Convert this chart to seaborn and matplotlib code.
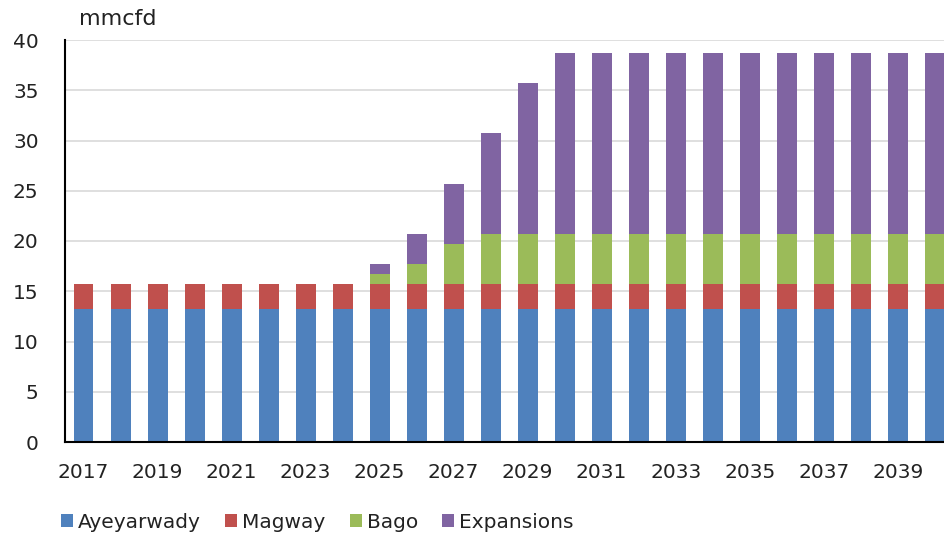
import numpy as np
import pandas as pd
import seaborn as sns
import matplotlib.pyplot as plt
from matplotlib.patches import Patch

years = list(range(2017, 2041))
ayeyarwady = [13.2] * 24
magway = [2.5] * 24
bago = [0] * 8 + [1.0, 2.0, 4.0] + [5.0] * 13
expansions = [0] * 8 + [1.0, 3.0, 6.0, 10.0, 15.0] + [18.0] * 11

series = ['Ayeyarwady', 'Magway', 'Bago', 'Expansions']
colors = ['#4F81BD', '#C0504D', '#9BBB59', '#8064A2']

df = pd.DataFrame({'year': [str(y) for y in years], 'Ayeyarwady': ayeyarwady,
                   'Magway': magway, 'Bago': bago, 'Expansions': expansions})
cum = df[series].cumsum(axis=1)

sns.set_style('white')
plt.rcParams['font.family'] = ['DejaVu Sans']

fig = plt.figure(figsize=(9.44, 5.39), dpi=100)
ax = fig.add_axes([65 / 944, 1 - 442 / 539, 1 - 65 / 944, (442 - 40) / 539])

# draw cumulative totals from the top down so lower segments cover upper ones
for name, col in reversed(list(zip(series, colors))):
    sns.barplot(x=df['year'], y=cum[name], color=col, width=0.54, ax=ax,
                saturation=1, linewidth=0, order=df['year'])

ax.set_ylim(0, 40)
ax.set_xlim(-0.5, 23.25)
ax.set_yticks(range(0, 41, 5))
ax.yaxis.grid(True, color='#d9d9d9', linewidth=1.2)
ax.set_axisbelow(True)
ax.set_xticks(range(0, 24, 2))
ax.set_xticklabels([str(y) for y in years[::2]])
ax.tick_params(axis='both', length=0, labelsize=14.5, colors='#222222')
ax.tick_params(axis='x', pad=15)
ax.tick_params(axis='y', pad=19)
ax.set_xlabel('')
ax.set_ylabel('')
for s in ['top', 'right']:
    ax.spines[s].set_visible(False)
for s in ['left', 'bottom']:
    ax.spines[s].set_color('black')
    ax.spines[s].set_linewidth(1.5)

fig.text(79 / 944, 1 - 19 / 539, 'mmcfd', fontsize=16, va='center', ha='left', color='#222222')

handles = [Patch(facecolor=c, edgecolor='none') for c in colors]
fig.legend(handles, series, loc='center left', bbox_to_anchor=(43 / 944, 1 - 522 / 539),
           ncol=4, frameon=False, fontsize=14.5, handlelength=0.6, handleheight=0.6,
           handletextpad=0.25, columnspacing=1.2, labelcolor='#222222')

fig.savefig('out.png', dpi=100)
